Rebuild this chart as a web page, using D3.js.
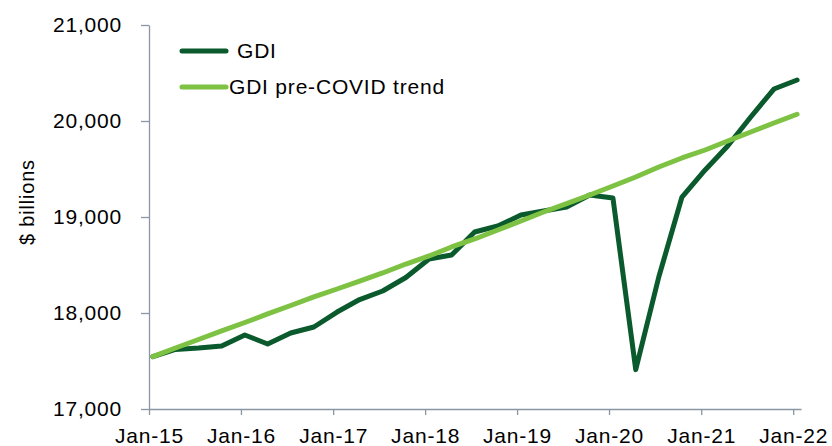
<!DOCTYPE html>
<html>
<head>
<meta charset="utf-8">
<style>
  body { margin: 0; background: #fff; }
  #chart { font-family: 'Liberation Sans', Arial, sans-serif; }
  #chart text { fill: #000; font-size: 21px; letter-spacing: 0.8px; }
  .axis path, .axis line { stroke: #8a96a3; stroke-width: 1.3; }
</style>
</head>
<body>
<div id="chart"></div>
<script src="https://d3js.org/d3.v7.min.js"></script>
<script>
  // quarterly observations, Q1 2015 - Q1 2022
  var quarters = ["2015-01", "2015-04", "2015-07", "2015-10",
    "2016-01", "2016-04", "2016-07", "2016-10",
    "2017-01", "2017-04", "2017-07", "2017-10",
    "2018-01", "2018-04", "2018-07", "2018-10",
    "2019-01", "2019-04", "2019-07", "2019-10",
    "2020-01", "2020-04", "2020-07", "2020-10",
    "2021-01", "2021-04", "2021-07", "2021-10",
    "2022-01"];
  var gdi = [17545, 17620, 17635, 17656,
    17771, 17677, 17792, 17854,
    18010, 18140, 18229, 18370,
    18563, 18604, 18844, 18906,
    19021, 19063, 19104, 19229,
    19198, 17410, 18375, 19208,
    19490, 19740, 20042, 20333,
    20427];
  var trend = [17545, 17635, 17724, 17813,
    17901, 17990, 18078, 18167,
    18250, 18333, 18417, 18510,
    18594, 18688, 18771, 18865,
    18958, 19052, 19140, 19229,
    19323, 19417, 19521, 19615,
    19698, 19792, 19885, 19979,
    20070];
  var yTicks = [17000, 18000, 19000, 20000, 21000];
  var xTickLabels = ["Jan-15", "Jan-16", "Jan-17", "Jan-18", "Jan-19", "Jan-20", "Jan-21", "Jan-22"];

  var width = 832, height = 446;
  var svg = d3.select("#chart").append("svg").attr("width", width).attr("height", height);

  var parse = d3.timeParse("%Y-%m");
  var x = d3.scaleTime()
    .domain([new Date(2015, 0, 1), new Date(2022, 1, 1)])
    .range([149, 801]);
  var y = d3.scaleLinear()
    .domain([17000, 21000])
    .range([409, 25]);

  // points sit in the middle of their month slot
  function xm(s) {
    var d = parse(s);
    return (x(d) + x(d3.timeMonth.offset(d, 1))) / 2;
  }

  // axes
  svg.append("g").attr("class", "axis")
    .attr("transform", "translate(149,0)")
    .call(d3.axisLeft(y).tickValues(yTicks).tickSize(8).tickSizeOuter(0).tickPadding(19).tickFormat(d3.format(",")));
  svg.append("g").attr("class", "axis")
    .attr("transform", "translate(0,409)")
    .call(d3.axisBottom(x).tickValues(d3.timeYear.range(new Date(2015, 0, 1), new Date(2022, 1, 1)))
      .tickSize(6).tickSizeOuter(0).tickPadding(13)
      .tickFormat(function(d, i) { return xTickLabels[i]; }));
  svg.selectAll(".axis text").style("font-size", "21px");
  svg.selectAll(".axis .domain").attr("stroke", "#8a96a3");

  svg.append("text")
    .attr("transform", "translate(34,202) rotate(-90)")
    .attr("text-anchor", "middle")
    .style("font-size", "20px")
    .text("$ billions");

  var line = d3.line()
    .x(function(d, i) { return xm(quarters[i]); })
    .y(function(d) { return y(d); });

  svg.append("path")
    .datum(gdi)
    .attr("d", line)
    .attr("fill", "none")
    .attr("stroke", "#0a5a2d")
    .attr("stroke-width", 5)
    .attr("stroke-linejoin", "round")
    .attr("stroke-linecap", "round");

  svg.append("path")
    .datum(trend)
    .attr("d", line)
    .attr("fill", "none")
    .attr("stroke", "#7dc242")
    .attr("stroke-width", 5)
    .attr("stroke-linejoin", "round")
    .attr("stroke-linecap", "round");

  // legend
  var legend = [{name: "GDI", color: "#0a5a2d", y: 51, tx: 237},
    {name: "GDI pre-COVID trend", color: "#7dc242", y: 87, tx: 229}];
  var lg = svg.append("g").selectAll("g").data(legend).enter().append("g");
  lg.append("line")
    .attr("x1", 182).attr("x2", 226)
    .attr("y1", function(d) { return d.y; }).attr("y2", function(d) { return d.y; })
    .attr("stroke", function(d) { return d.color; })
    .attr("stroke-width", 5)
    .attr("stroke-linecap", "round");
  lg.append("text")
    .attr("x", function(d) { return d.tx; })
    .attr("y", function(d) { return d.y + 7; })
    .text(function(d) { return d.name; });
</script>
</body>
</html>
